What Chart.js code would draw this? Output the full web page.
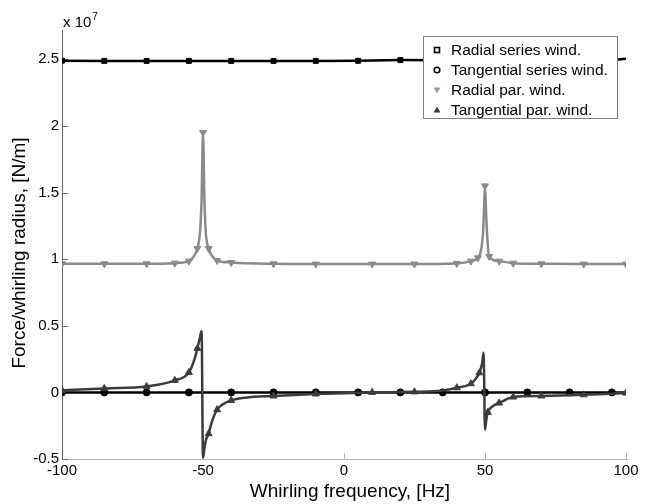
<!DOCTYPE html>
<html>
<head>
<meta charset="utf-8">
<script src="https://cdn.jsdelivr.net/npm/chart.js@4.4.1/dist/chart.umd.min.js"></script>
<style>
  html,body{margin:0;padding:0;background:#fff}
</style>
</head>
<body>
<canvas id="c" width="650" height="504"></canvas>
<script>
// axis ticks
const xTicks = [-100, -50, 0, 50, 100];
const yTicks = [-0.5, 0, 0.5, 1, 1.5, 2, 2.5];

// series wind. (values in units of 1e7 N/m)
const serX     = [-100, -85, -70, -55, -40, -25, -10, 5, 20, 35, 50, 65, 80, 95, 100];
const radSerY  = [2.49, 2.488, 2.488, 2.488, 2.488, 2.488, 2.488, 2.489, 2.494, 2.493, 2.493, 2.493, 2.493, 2.495, 2.505];
const tanSerY  = [0, 0, 0, 0, 0, 0, 0, 0, 0, 0, 0, 0, 0, 0, 0];
const serMarks = [-100, -85, -70, -55, -40, -25, -10, 5, 20, 35, 50, 65, 80, 95];

// radial par. wind.
const radParX = [-100, -85, -70, -60, -55, -53, -52, -51, -50.5, -50, -49.5, -49, -48, -47, -45, -40, -25, -10, 10, 25, 40, 45, 47.5, 48.5, 49.3, 49.7, 50, 50.3, 50.7, 51.5, 55, 60, 70, 85, 100];
const radParY = [0.965, 0.965, 0.965, 0.97, 0.985, 1.03, 1.08, 1.22, 1.45, 1.95, 1.45, 1.2, 1.08, 1.03, 0.99, 0.975, 0.965, 0.963, 0.963, 0.963, 0.968, 0.985, 1.01, 1.06, 1.2, 1.4, 1.55, 1.4, 1.2, 1.02, 0.985, 0.97, 0.965, 0.963, 0.963];
const radParMarks = [-100, -85, -70, -60, -55, -52, -50, -48, -45, -40, -25, -10, 10, 25, 40, 45, 47.5, 50, 51.5, 55, 60, 70, 85, 100];

// tangential par. wind.
const tanParX = [-100, -85, -70, -60, -55, -53, -52, -51, -50.5, -50, -49.5, -49, -48, -47, -45, -43, -40, -35, -25, -10, 10, 25, 35, 40, 45, 47, 48, 49, 49.5, 50, 50.5, 51, 53, 55, 60, 70, 85, 100];
const tanParY = [0.015, 0.03, 0.045, 0.09, 0.15, 0.25, 0.33, 0.42, 0.46, -0.49, -0.42, -0.36, -0.31, -0.23, -0.13, -0.09, -0.06, -0.04, -0.027, -0.012, 0, 0.004, 0.015, 0.035, 0.065, 0.11, 0.147, 0.22, 0.3, -0.28, -0.2, -0.15, -0.1, -0.08, -0.035, -0.027, -0.018, -0.005];
const tanParMarks = [-100, -85, -70, -60, -55, -52, -48, -45, -40, -25, -10, 10, 25, 40, 45, 48, 51, 55, 60, 70, 85, 100];

const FONT = "'Liberation Sans', Arial, sans-serif";
const pts = (xs, ys) => xs.map((x, i) => ({x, y: ys[i]}));
const mark = (list, r) => ctx => (ctx.raw && list.includes(ctx.raw.x)) ? r : 0;

const seriesDefs = [
  {label:'Radial series wind.',     data:pts(serX, radSerY), color:'#000', fill:'#000', style:'rect',     rot:0,   marks:serMarks,    r:3.5, lw:2.5},
  {label:'Tangential series wind.', data:pts(serX, tanSerY), color:'#000', fill:'#000', style:'circle',   rot:0,   marks:serMarks,    r:3.5, lw:2.5},
  {label:'Radial par. wind.',       data:pts(radParX, radParY), color:'#8a8a8a', fill:'#8a8a8a', style:'triangle', rot:180, marks:radParMarks, r:4, lw:2.5},
  {label:'Tangential par. wind.',   data:pts(tanParX, tanParY), color:'#3c3c3c', fill:'#3c3c3c', style:'triangle', rot:0,   marks:tanParMarks, r:4, lw:2.5}
];

// axes, inward ticks, labels and legend (MATLAB look)
const matlabPlugin = {
  id: 'matlab',
  beforeDatasetsDraw(chart){
    const {ctx, chartArea:a, scales:{x, y}} = chart;
    ctx.save();
    ctx.lineWidth = 1;
    ctx.strokeStyle = '#b4b4b4';
    ctx.beginPath(); ctx.moveTo(a.left, a.bottom + .5); ctx.lineTo(a.right + 2, a.bottom + .5); ctx.stroke();
    xTicks.forEach(v => {
      const px = Math.round(x.getPixelForValue(v)) + .5;
      ctx.beginPath(); ctx.moveTo(px, a.bottom); ctx.lineTo(px, a.bottom - 6); ctx.stroke();
    });
    ctx.strokeStyle = '#666';
    ctx.beginPath(); ctx.moveTo(a.left + .5, a.top); ctx.lineTo(a.left + .5, a.bottom); ctx.stroke();
    yTicks.forEach(v => {
      const py = Math.round(y.getPixelForValue(v)) + .5;
      ctx.beginPath(); ctx.moveTo(a.left, py); ctx.lineTo(a.left + 6, py); ctx.stroke();
    });
    ctx.restore();
  },
  afterDraw(chart){
    const {ctx, chartArea:a} = chart;
    ctx.save();
    ctx.fillStyle = '#000';
    // exponent
    ctx.font = '15px ' + FONT;
    ctx.textBaseline = 'alphabetic';
    ctx.textAlign = 'left';
    ctx.fillText('x 10', a.left + 1, 27);
    const w = ctx.measureText('x 10').width;
    ctx.font = '10px ' + FONT;
    ctx.fillText('7', a.left + 1 + w + 1, 20);
    // axis titles
    ctx.font = '19px ' + FONT;
    ctx.textAlign = 'center';
    ctx.fillText('Whirling frequency, [Hz]', (a.left + a.right) / 2 + 6, 497);
    ctx.translate(25, 253);
    ctx.rotate(-Math.PI / 2);
    ctx.fillText('Force/whirling radius, [N/m]', 0, 0);
    ctx.restore();

    // legend
    ctx.save();
    const bx = 423.5, by = 36.5, bw = 194, bh = 82;
    ctx.fillStyle = '#fff';
    ctx.fillRect(bx, by, bw, bh);
    ctx.strokeStyle = '#808080';
    ctx.lineWidth = 1;
    ctx.strokeRect(bx, by, bw, bh);
    ctx.font = '15.5px ' + FONT;
    ctx.textAlign = 'left';
    ctx.textBaseline = 'middle';
    seriesDefs.forEach((s, i) => {
      const cy = 50 + i * 20, cx = 437;
      ctx.lineWidth = 1.6;
      ctx.strokeStyle = s.color;
      ctx.fillStyle = s.color;
      if (s.style === 'rect') {
        ctx.strokeRect(cx - 2.5, cy - 2.5, 5, 5);
      } else if (s.style === 'circle') {
        ctx.beginPath(); ctx.arc(cx, cy, 2.8, 0, Math.PI * 2); ctx.stroke();
      } else {
        const d = s.rot ? 1 : -1;
        ctx.fillStyle = s.rot ? '#9a9a9a' : '#3c3c3c';
        ctx.beginPath();
        ctx.moveTo(cx - 3.5, cy - d * 2.5);
        ctx.lineTo(cx + 3.5, cy - d * 2.5);
        ctx.lineTo(cx, cy + d * 3.5);
        ctx.closePath(); ctx.fill();
      }
      ctx.fillStyle = '#000';
      ctx.fillText(s.label, 451, cy + 1);
    });
    ctx.restore();
  }
};

new Chart(document.getElementById('c'), {
  type: 'line',
  data: {
    datasets: seriesDefs.map((s, i) => ({
      label: s.label,
      data: s.data,
      borderColor: s.color,
      backgroundColor: s.fill,
      borderWidth: s.lw,
      pointStyle: s.style,
      pointRotation: s.rot,
      pointRadius: mark(s.marks, s.r),
      pointBorderColor: s.color,
      pointBackgroundColor: s.fill,
      pointBorderWidth: 1,
      cubicInterpolationMode: i >= 2 ? 'monotone' : 'default',
      tension: 0,
      fill: false,
      order: 3 - i
    }))
  },
  options: {
    responsive: false,
    animation: false,
    devicePixelRatio: 1,
    layout: {padding: {top: 30, right: 24, left: 0, bottom: 0}},
    plugins: {legend: {display: false}, tooltip: {enabled: false}},
    scales: {
      x: {
        type: 'linear', min: -100, max: 100,
        afterBuildTicks: s => { s.ticks = xTicks.map(v => ({value: v})); },
        afterFit: s => { s.height = 45; },
        grid: {display: false, drawTicks: false},
        border: {display: false},
        ticks: {color: '#000', padding: 3, maxRotation: 0, autoSkip: false,
                font: {family: FONT, size: 15}, callback: v => String(v)}
      },
      y: {
        type: 'linear', min: -0.5, max: 2.72,
        afterBuildTicks: s => { s.ticks = yTicks.map(v => ({value: v})); },
        afterFit: s => { s.width = 62; },
        grid: {display: false, drawTicks: false},
        border: {display: false},
        ticks: {color: '#000', padding: 3, autoSkip: false,
                font: {family: FONT, size: 15}, callback: v => String(v)}
      }
    }
  },
  plugins: [matlabPlugin]
});
</script>
</body>
</html>
